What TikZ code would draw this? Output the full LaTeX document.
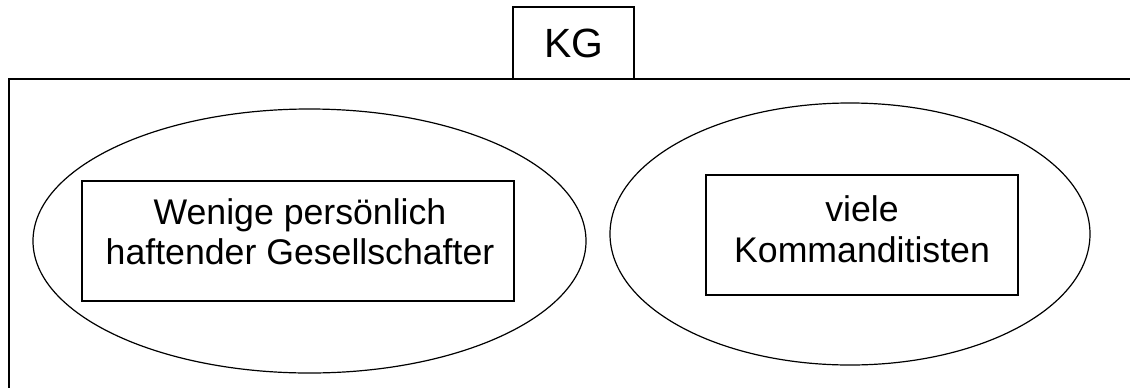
\documentclass[tikz,border=0pt]{standalone}
\usepackage{fontspec}
\setmainfont{Liberation Sans}
\usetikzlibrary{shapes.geometric}
\begin{document}
\begin{tikzpicture}[x=1bp,y=-1bp,
  frameline/.style={line width=1.5bp,black},
  boxnode/.style={draw,line width=1.5bp,rectangle,inner sep=0pt},
  ovalnode/.style={draw,line width=1.2bp,ellipse,inner sep=0pt},
  txt/.style={anchor=base,inner sep=0pt,font=\fontsize{35.8}{40}\selectfont},
  kgtxt/.style={anchor=base,inner sep=0pt,font=\fontsize{41}{46}\selectfont}]
\useasboundingbox (0,0) rectangle (1130,388);
\fill[white] (0,0) rectangle (1130,388);
% outer frame (only top and left edges visible)
\coordinate (fr) at (1130,79);
\coordinate (fc) at (9,79);
\coordinate (fb) at (9,388);
\draw[frameline] (fr) -- (fc) -- (fb);
% KG box
\node[boxnode,fill=white,minimum width=121bp,minimum height=72bp] (kg) at (573.5,43) {};
\node[kgtxt] (kgt) at (574,57) {KG};
% ellipses
\node[ovalnode,minimum width=553bp,minimum height=264bp] (e1) at (309.5,241) {};
\node[ovalnode,minimum width=480bp,minimum height=262bp] (e2) at (850,234) {};
% inner boxes
\node[boxnode,minimum width=432bp,minimum height=120bp] (b1) at (298,241) {};
\node[boxnode,minimum width=312bp,minimum height=120bp] (b2) at (862,235) {};
% texts
\node[txt] (t1a) at (300,224) {Wenige persönlich};
\node[txt] (t1b) at (300,264) {haftender Gesellschafter};
\node[txt] (t2a) at (862,221) {viele};
\node[txt] (t2b) at (862,262) {Kommanditisten};
\end{tikzpicture}
\end{document}
